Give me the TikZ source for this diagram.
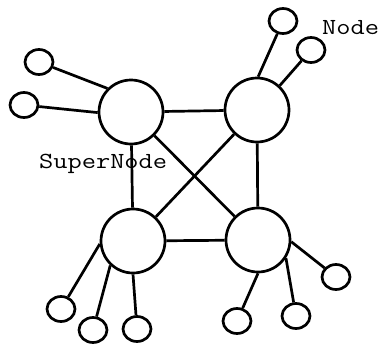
\documentclass[tikz,border=0pt]{standalone}
\usepackage{fontspec}
\newfontfamily\courf[FakeStretch=1.2]{Latin Modern Mono}
\usetikzlibrary{shapes.geometric}
\begin{document}
\begin{tikzpicture}[x=1pt,y=-1pt,
  super/.style={circle,draw,line width=2.7pt,minimum size=64pt,inner sep=0pt},
  leaf/.style={ellipse,draw,line width=2.7pt,minimum width=28pt,minimum height=25pt,inner sep=0pt},
  link/.style={line width=2.7pt},
  lbl/.style={inner sep=0pt,anchor=base west,font=\courf\fontsize{23}{26}\selectfont}]
\useasboundingbox (0,0) rectangle (380,343);
\node[super] (s1) at (131,112) {};
\node[super] (s2) at (257,110) {};
\node[super] (s3) at (133,241) {};
\node[super] (s4) at (258,240) {};
\node[leaf] (a) at (39,62) {};
\node[leaf] (b) at (24,105) {};
\node[leaf] (c) at (283,21) {};
\node[leaf] (d) at (311,50) {};
\node[leaf] (e) at (61,309) {};
\node[leaf] (f) at (93,330) {};
\node[leaf] (g) at (137,329) {};
\node[leaf] (h) at (237,321) {};
\node[leaf] (i) at (296,316) {};
\node[leaf] (j) at (336,277) {};
\draw[link] (s1) -- (s2);
\draw[link] (s1) -- (s3);
\draw[link] (s1) -- (s4);
\draw[link] (s2) -- (s3);
\draw[link] (s2) -- (s4);
\draw[link] (s3) -- (s4);
\draw[link] (s1.135) -- (a);
\draw[link] (s1.181) -- (b);
\draw[link] (s2.88) -- (c);
\draw[link] (s2.47) -- (d);
\draw[link] (s3.185) -- (e);
\draw[link] (s3.227) -- (f);
\draw[link] (s3.270) -- (g);
\draw[link] (s4.270) -- (h);
\draw[link] (s4.-33) -- (i);
\draw[link] (s4.-3) -- (j);
\node[lbl] (t1) at (39,168) {SuperNode};
\node[lbl] (t2) at (322,34) {Node};
\end{tikzpicture}
\end{document}
